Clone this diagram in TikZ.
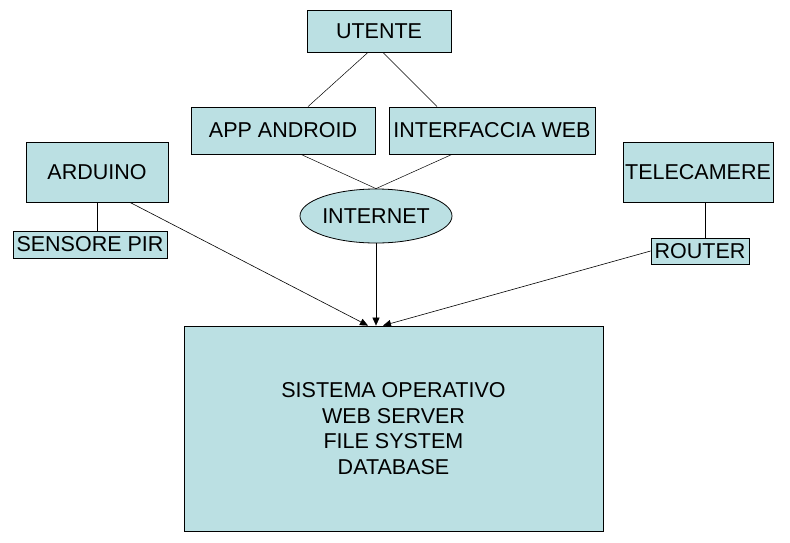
\documentclass[tikz,border=0pt]{standalone}
\usepackage{fontspec}
\setmainfont{Liberation Sans}
\usetikzlibrary{positioning,shapes.geometric,arrows.meta}
\definecolor{boxfill}{RGB}{187,224,227}

\begin{document}
\begin{tikzpicture}[x=1pt, y=-1pt,
    block/.style={draw, fill=boxfill, line width=0.8pt, inner sep=0pt, font=\fontsize{21.5}{25.7}\selectfont, align=center},
    link/.style={line width=0.5pt},
    arr/.style={line width=0.6pt, -{Triangle[length=8pt,width=7pt]}}]
    \useasboundingbox (0,0) rectangle (790,542);
    \node[block, minimum width=144pt, minimum height=42pt] (utente) at (379,31) {UTENTE};
    \node[block, minimum width=184pt, minimum height=47pt] (app) at (283,130.5) {APP ANDROID};
    \node[block, minimum width=206pt, minimum height=47pt] (web) at (492,130.5) {INTERFACCIA WEB};
    \node[block, ellipse, minimum width=152pt, minimum height=54pt] (internet) at (376,216) {INTERNET};
    \node[block, minimum width=142pt, minimum height=60pt] (arduino) at (97,172) {ARDUINO};
    \node[block, minimum width=154pt, minimum height=27pt] (pir) at (90,244.5) {SENSORE PIR};
    \node[block, minimum width=150pt, minimum height=60pt] (telecamere) at (698,172) {TELECAMERE};
    \node[block, minimum width=98pt, minimum height=26pt] (router) at (700,251) {ROUTER};
    \node[block, minimum width=419pt, minimum height=205pt] (server) at (393.5,428.5)
        {SISTEMA OPERATIVO\\WEB SERVER\\FILE SYSTEM\\DATABASE};
    % collegamenti
    \draw[link] ([xshift=-11pt]utente.south) -- ([xshift=25pt]app.north);
    \draw[link] ([xshift=4pt]utente.south) -- ([xshift=-55pt]web.north);
    \draw[link] ([xshift=18pt]app.south) -- (internet.north);
    \draw[link] ([xshift=-40pt]web.south) -- (internet.north);
    \draw[link] (arduino.south) -- (arduino.south |- pir.north);
    \draw[link] ([xshift=7pt]telecamere.south) -- ([xshift=7pt]telecamere.south |- router.north);
    % frecce verso il server
    \draw[arr] ([xshift=33pt]arduino.south) -- ([xshift=-25.5pt]server.north);
    \draw[arr] (internet.south) -- (internet.south |- server.north);
    \draw[arr] (router.west) -- ([xshift=-10.5pt]server.north);
\end{tikzpicture}
\end{document}
